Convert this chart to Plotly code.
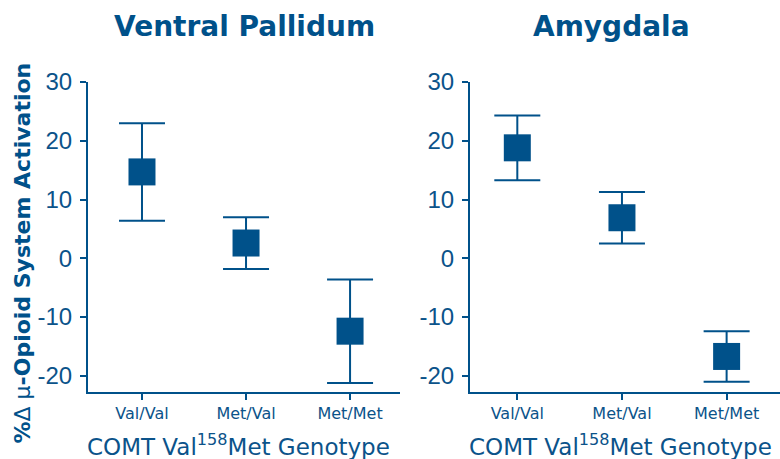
import plotly.graph_objects as go

# ---- data ----
categories = ["Val/Val", "Met/Val", "Met/Met"]
vp_mean = [14.7, 2.6, -12.4]
vp_err = [8.3, 4.4, 8.8]
amy_mean = [18.8, 6.9, -16.7]
amy_err = [5.5, 4.4, 4.3]
y_tickvals = [-20, -10, 0, 10, 20, 30]
y_ticktext = ["-20", "-10", "0", "10", "20", "30"]
panel_titles = ["Ventral Pallidum", "Amygdala"]
x_title = "COMT Val<sup>158</sup>Met Genotype"
y_title = "<b>%</b>Δ μ<b>-Opioid System Activation</b>"

BLUE = "#00518a"
TXT = "#0b538a"
FONT = "DejaVu Sans"
TICKFONT = "Liberation Sans"

W, H = 780, 459
L, R, T, B = 88, 0, 82, 67


def px_x(px):
    return (px - L) / (W - L - R)


def px_y(py):
    return (H - B - py) / (H - T - B)


fig = go.Figure()
x_idx = list(range(len(categories)))
for i, (m, e) in enumerate([(vp_mean, vp_err), (amy_mean, amy_err)]):
    fig.add_trace(go.Scatter(
        x=x_idx, y=m, mode="markers",
        marker=dict(symbol="square", size=27, color=BLUE),
        error_y=dict(type="data", array=e, visible=True, color=BLUE,
                     thickness=2, width=23),
        xaxis="x" if i == 0 else "x2", yaxis="y" if i == 0 else "y2",
        showlegend=False, hoverinfo="skip"))

xcommon = dict(tickvals=x_idx, ticktext=categories, showline=True, linewidth=2,
               linecolor=BLUE, ticks="outside", ticklen=6, tickwidth=2,
               tickcolor=BLUE, tickfont=dict(family=FONT, size=16, color=TXT),
               showgrid=False, zeroline=False, automargin=False)
ycommon = dict(tickvals=y_tickvals, ticktext=y_ticktext, range=[-22.75, 30],
               showline=True, linewidth=2, linecolor=BLUE, ticks="outside",
               ticklen=6, tickwidth=2, tickcolor=BLUE, ticklabelstandoff=3,
               tickfont=dict(family=TICKFONT, size=24, color=TXT),
               showgrid=False, zeroline=False, domain=[0, 1], automargin=False)

fig.update_layout(
    width=W, height=H, margin=dict(l=L, r=R, t=T, b=B, autoexpand=False),
    paper_bgcolor="white", plot_bgcolor="white",
    xaxis=dict(domain=[0, px_x(400)], range=[-0.519, 2.48], anchor="y", **xcommon),
    yaxis=dict(anchor="x", **ycommon),
    xaxis2=dict(domain=[px_x(470), 1], range=[-0.452, 2.51], anchor="y2", **xcommon),
    yaxis2=dict(anchor="x2", **ycommon),
)

ann = []
for t, cx in zip(panel_titles, [244.5, 611]):
    ann.append(dict(text="<b>" + t + "</b>", x=px_x(cx), y=px_y(26.3),
                    xref="paper", yref="paper", xanchor="center", yanchor="middle",
                    showarrow=False, font=dict(family=FONT, size=28, color=BLUE)))
for cx in [238.4, 620.8]:
    ann.append(dict(text=x_title, x=px_x(cx), y=px_y(445),
                    xref="paper", yref="paper", xanchor="center", yanchor="middle",
                    showarrow=False, font=dict(family=FONT, size=23, color=TXT)))
ann.append(dict(text=y_title, x=px_x(22), y=px_y(253.5), textangle=-90,
                xref="paper", yref="paper", xanchor="center", yanchor="middle",
                showarrow=False, font=dict(family=FONT, size=22, color=BLUE)))
fig.update_layout(annotations=ann)

fig.write_html("out.html", config={"displayModeBar": False},
               post_script="document.body.style.margin='0px';document.body.style.overflow='hidden';")
